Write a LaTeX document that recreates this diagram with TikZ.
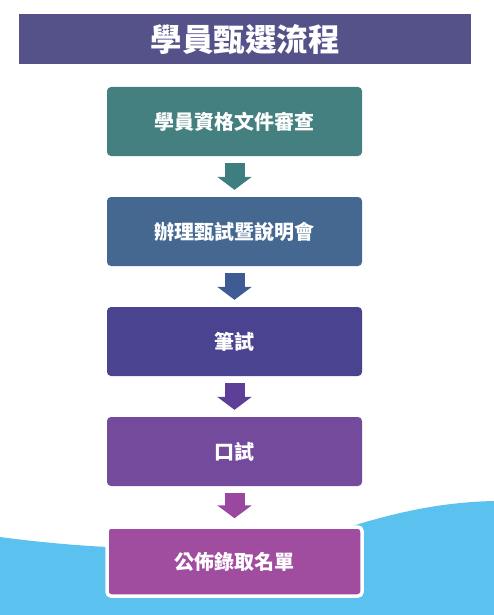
\documentclass[tikz,border=0pt]{standalone}
\usepackage{fontspec}
\newfontfamily\cjk{Noto Sans CJK TC}
\usetikzlibrary{arrows.meta, positioning}

\definecolor{titlebg}{HTML}{55528A}
\definecolor{wave}{HTML}{5BC1EE}
\definecolor{cA}{HTML}{43807F}
\definecolor{cB}{HTML}{456891}
\definecolor{cC}{HTML}{4A4490}
\definecolor{cD}{HTML}{744A9D}
\definecolor{cE}{HTML}{A04DA0}
\definecolor{aA}{HTML}{3F7E80}
\definecolor{aB}{HTML}{3F5B93}
\definecolor{aC}{HTML}{5E3F98}
\definecolor{aD}{HTML}{9A47A0}

\tikzset{
  stepbox/.style={rectangle, rounded corners=4pt, minimum width=255pt, minimum height=69pt,
    inner sep=0pt, text=white, font=\cjk\bfseries\fontsize{20}{24}\selectfont},
  flow/.style={line width=20pt, shorten <=7pt, shorten >=7pt,
    -{Triangle[length=13pt, width=34pt]}}
}

\begin{document}
\begin{tikzpicture}[x=1pt, y=-1pt, node distance=110pt, on grid]
	\useasboundingbox (0,0) rectangle (494,615);
	% wave in the background
	\fill[wave] (0,537) .. controls (150,557) and (280,550) .. (362,523)
		.. controls (410,509) and (450,502) .. (494,501) -- (494,615) -- (0,615) -- cycle;
	
	\node[rectangle, fill=titlebg, minimum width=452pt, minimum height=50pt, inner sep=0pt,
		text=white, font=\cjk\bfseries\fontsize{31.5}{36}\selectfont] (title) at (245,39) {學員甄選流程};
	
	\node[stepbox, fill=cA] (b1) at (234.5,121.5) {學員資格文件審查};
	\node[stepbox, fill=cB, below = of b1] (b2) {辦理甄試暨說明會};
	\node[stepbox, fill=cC, below = of b2] (b3) {筆試};
	\node[stepbox, fill=cD, below = of b3] (b4) {口試};
	\node[stepbox, fill=cE, below = of b4, draw=white, line width=3.5pt] (b5) {公佈錄取名單};
	
	\path (b1) edge[flow, draw=aA, fill=aA] (b2)
	(b2) edge[flow, draw=aB, fill=aB] (b3)
	(b3) edge[flow, draw=aC, fill=aC] (b4)
	(b4) edge[flow, draw=aD, fill=aD] (b5);
\end{tikzpicture}
\end{document}
